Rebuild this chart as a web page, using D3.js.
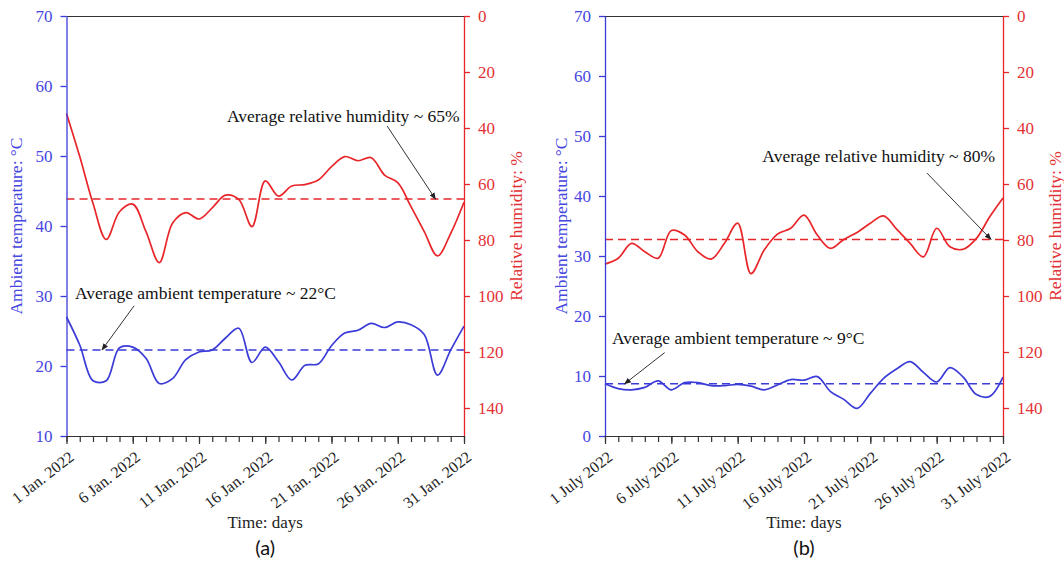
<!DOCTYPE html>
<html>
<head>
<meta charset="utf-8">
<script src="https://cdn.jsdelivr.net/npm/d3@7"></script>
<style>
body { margin: 0; background: #fff; }
svg { display: block; }
</style>
</head>
<body>
<script>
// daily readings, January (a) and July (b) 2022
var days = [1, 2, 3, 4, 5, 6, 7, 8, 9, 10, 11, 12, 13, 14, 15, 16, 17, 18, 19, 20,
    21, 22, 23, 24, 25, 26, 27, 28, 29, 30, 31];
var tickDays = [1, 6, 11, 16, 21, 26, 31];
var janLabels = ["1 Jan. 2022", "6 Jan. 2022", "11 Jan. 2022", "16 Jan. 2022",
    "21 Jan. 2022", "26 Jan. 2022", "31 Jan. 2022"];
var julyLabels = ["1 July 2022", "6 July 2022", "11 July 2022", "16 July 2022",
    "21 July 2022", "26 July 2022", "31 July 2022"];

var janTemp = [27.0, 23.0, 17.9, 17.9, 22.6, 22.7, 21.1, 17.5, 18.2, 20.9, 22.0, 22.3,
    24.0, 25.4, 20.5, 22.7, 20.6, 18.0, 20.1, 20.3, 22.9, 24.7, 25.1, 26.1, 25.5, 26.3,
    25.9, 24.5, 18.7, 22.3, 25.7];
var janHumidity = [34.8, 50.2, 66.9, 79.8, 69.9, 67.2, 77.0, 88.1, 74.0, 70.2, 72.5,
    68.5, 64.0, 65.5, 75.2, 58.9, 64.3, 60.7, 60.2, 58.6, 53.8, 50.2, 51.7, 50.6, 56.8,
    59.5, 68.1, 77.0, 85.7, 77.6, 66.5];
var julyTemp = [8.7, 7.9, 7.7, 8.1, 9.2, 7.7, 8.9, 8.9, 8.4, 8.4, 8.6, 8.3, 7.7, 8.5,
    9.4, 9.3, 9.9, 7.4, 6.1, 4.6, 7.1, 9.6, 11.2, 12.4, 10.6, 9.0, 11.4, 9.8, 6.9, 6.6, 9.8];
var julyHumidity = [88.6, 86.5, 81.2, 84.2, 86.5, 76.6, 78.2, 84.2, 86.8, 81.2, 74.0,
    92.0, 83.6, 77.9, 75.8, 71.1, 78.2, 83.0, 79.8, 77.3, 74.0, 71.4, 76.2, 81.2, 86.0,
    75.8, 82.4, 83.3, 79.4, 71.7, 65.0];

var janAvg = [22.3, 65.4];   // temperature, humidity
var julyAvg = [8.7, 79.8];

var tempTicksJan = [10, 20, 30, 40, 50, 60, 70];
var tempTicksJuly = [0, 10, 20, 30, 40, 50, 60, 70];
var humidityTicks = [0, 20, 40, 60, 80, 100, 120, 140];

var colors = {
    blue: "#3b3bd8",
    blueText: "#4646e0",
    red: "#e8262a",
    redText: "#e33236",
    frame: "#333"
};
var serif = "'Liberation Serif', 'Times New Roman', serif";
var plotTop = 16, plotBottom = 436;

var svg = d3.select("body").append("svg")
    .attr("width", 1064)
    .attr("height", 562);

svg.append("defs").append("marker")
    .attr("id", "arrow")
    .attr("viewBox", "0 0 10 10")
    .attr("refX", 9)
    .attr("refY", 5)
    .attr("markerWidth", 7)
    .attr("markerHeight", 7)
    .attr("orient", "auto")
    .append("path")
    .attr("d", "M0,1L10,5L0,9Z")
    .attr("fill", "#222");

function drawPanel(p) {
    var x = d3.scaleLinear().domain([1, 31]).range([p.left, p.right]);
    var yT = d3.scaleLinear().domain(p.tempDomain).range([plotBottom, plotTop]);
    var yH = d3.scaleLinear().domain([0, 150]).range([plotTop, plotBottom]);
    var g = svg.append("g");

    //frame top
    g.append("line")
        .attr("x1", p.left).attr("x2", p.right)
        .attr("y1", plotTop + 0.5).attr("y2", plotTop + 0.5)
        .attr("stroke", colors.frame);

    //average lines
    g.append("line")
        .attr("x1", x(1)).attr("x2", x(31))
        .attr("y1", yT(p.avg[0])).attr("y2", yT(p.avg[0]))
        .attr("stroke", colors.blue).attr("stroke-width", 1.5)
        .attr("stroke-dasharray", "8,5");
    g.append("line")
        .attr("x1", x(1)).attr("x2", x(31))
        .attr("y1", yH(p.avg[1])).attr("y2", yH(p.avg[1]))
        .attr("stroke", colors.red).attr("stroke-width", 1.5)
        .attr("stroke-dasharray", "8,5");

    //curves
    var tempLine = d3.line()
        .x(function (d, i) { return x(days[i]); })
        .y(function (d) { return yT(d); })
        .curve(d3.curveCatmullRom.alpha(0.5));
    var humLine = d3.line()
        .x(function (d, i) { return x(days[i]); })
        .y(function (d) { return yH(d); })
        .curve(d3.curveCatmullRom.alpha(0.5));
    g.append("path").datum(p.temp)
        .attr("d", tempLine)
        .attr("fill", "none").attr("stroke", colors.blue).attr("stroke-width", 1.7);
    g.append("path").datum(p.hum)
        .attr("d", humLine)
        .attr("fill", "none").attr("stroke", colors.red).attr("stroke-width", 1.7);

    //left axis
    var left = g.append("g")
        .attr("transform", "translate(" + p.left + ",0)")
        .call(d3.axisLeft(yT).tickValues(p.tempTicks).tickSize(6).tickSizeOuter(0).tickPadding(8));
    left.selectAll("path, line").attr("stroke", colors.blue).attr("stroke-width", 1.3);
    left.selectAll("text").attr("fill", colors.blueText)
        .attr("font-family", serif).attr("font-size", 17);

    //right axis
    var right = g.append("g")
        .attr("transform", "translate(" + p.right + ",0)")
        .call(d3.axisRight(yH).tickValues(humidityTicks).tickSize(6).tickSizeOuter(0).tickPadding(8));
    right.selectAll("path, line").attr("stroke", colors.red).attr("stroke-width", 1.3);
    right.selectAll("text").attr("fill", colors.redText)
        .attr("font-family", serif).attr("font-size", 17);

    //bottom axis, minor day ticks then labelled ones
    var minor = g.append("g")
        .attr("transform", "translate(0," + plotBottom + ")")
        .call(d3.axisBottom(x).tickValues(days).tickSize(6).tickSizeOuter(0).tickFormat(""));
    minor.selectAll("path, line").attr("stroke", colors.frame).attr("stroke-width", 1.2);

    var major = g.append("g")
        .attr("transform", "translate(0," + plotBottom + ")")
        .call(d3.axisBottom(x).tickValues(tickDays).tickSize(8).tickSizeOuter(0)
            .tickFormat(function (d, i) { return p.labels[i]; }));
    major.select(".domain").remove();
    major.selectAll("line").attr("stroke", colors.frame).attr("stroke-width", 1.2);
    major.selectAll("text")
        .attr("fill", "#222")
        .attr("font-family", serif).attr("font-size", 16)
        .attr("text-anchor", "end")
        .attr("dy", null).attr("y", null)
        .attr("transform", "translate(8,23) rotate(-38)");

    //axis titles
    var mid = (plotTop + plotBottom) / 2;
    g.append("text")
        .attr("transform", "translate(" + p.leftTitleX + "," + mid + ") rotate(-90)")
        .attr("text-anchor", "middle")
        .attr("fill", colors.blueText)
        .attr("font-family", serif).attr("font-size", 17.5)
        .text("Ambient temperature: °C");
    g.append("text")
        .attr("transform", "translate(" + (p.right + 58) + "," + mid + ") rotate(-90)")
        .attr("text-anchor", "middle")
        .attr("fill", colors.redText)
        .attr("font-family", serif).attr("font-size", 17.5)
        .text("Relative humidity: %");
    g.append("text")
        .attr("x", (p.left + p.right) / 2).attr("y", 528)
        .attr("text-anchor", "middle")
        .attr("fill", "#222")
        .attr("font-family", serif).attr("font-size", 17)
        .text("Time: days");
    g.append("text")
        .attr("x", (p.left + p.right) / 2).attr("y", 555)
        .attr("text-anchor", "middle")
        .attr("fill", "#111")
        .attr("font-family", "Lato, 'Liberation Sans', sans-serif").attr("font-size", 20)
        .text(p.letter);

    //annotations, placed in data units
    var hn = p.humNote, tn = p.tempNote;
    g.append("text")
        .attr("x", x(hn.day)).attr("y", yH(hn.value))
        .attr("text-anchor", "end")
        .attr("fill", "#111")
        .attr("font-family", serif).attr("font-size", 17.5)
        .text(hn.text);
    g.append("line")
        .attr("x1", x(hn.from[0])).attr("y1", yH(hn.from[1]))
        .attr("x2", x(hn.to)).attr("y2", yH(p.avg[1]))
        .attr("stroke", "#333").attr("stroke-width", 1)
        .attr("marker-end", "url(#arrow)");
    g.append("text")
        .attr("x", x(tn.day)).attr("y", yT(tn.value))
        .attr("fill", "#111")
        .attr("font-family", serif).attr("font-size", 17.5)
        .text(tn.text);
    g.append("line")
        .attr("x1", x(tn.from[0])).attr("y1", yT(tn.from[1]))
        .attr("x2", x(tn.to)).attr("y2", yT(p.avg[0]))
        .attr("stroke", "#333").attr("stroke-width", 1)
        .attr("marker-end", "url(#arrow)");
}

drawPanel({
    left: 66.5, right: 464, leftTitleX: 22,
    tempDomain: [10, 70], tempTicks: tempTicksJan,
    temp: janTemp, hum: janHumidity, avg: janAvg,
    labels: janLabels, letter: "(a)",
    humNote: { text: "Average relative humidity ~ 65%", day: 30.67, value: 37.9, from: [25.2, 39.3], to: 28.85 },
    tempNote: { text: "Average ambient temperature ~ 22°C", day: 1.64, value: 29.6, from: [6.1, 28.6], to: 3.68 }
});

drawPanel({
    left: 605, right: 1003, leftTitleX: 567,
    tempDomain: [0, 70], tempTicks: tempTicksJuly,
    temp: julyTemp, hum: julyHumidity, avg: julyAvg,
    labels: julyLabels, letter: "(b)",
    humNote: { text: "Average relative humidity ~ 80%", day: 30.4, value: 52.1, from: [25.27, 56.1], to: 30.1 },
    tempNote: { text: "Average ambient temperature ~ 9°C", day: 1.53, value: 15.4, from: [5.5, 13.9], to: 2.48 }
});
</script>
</body>
</html>
